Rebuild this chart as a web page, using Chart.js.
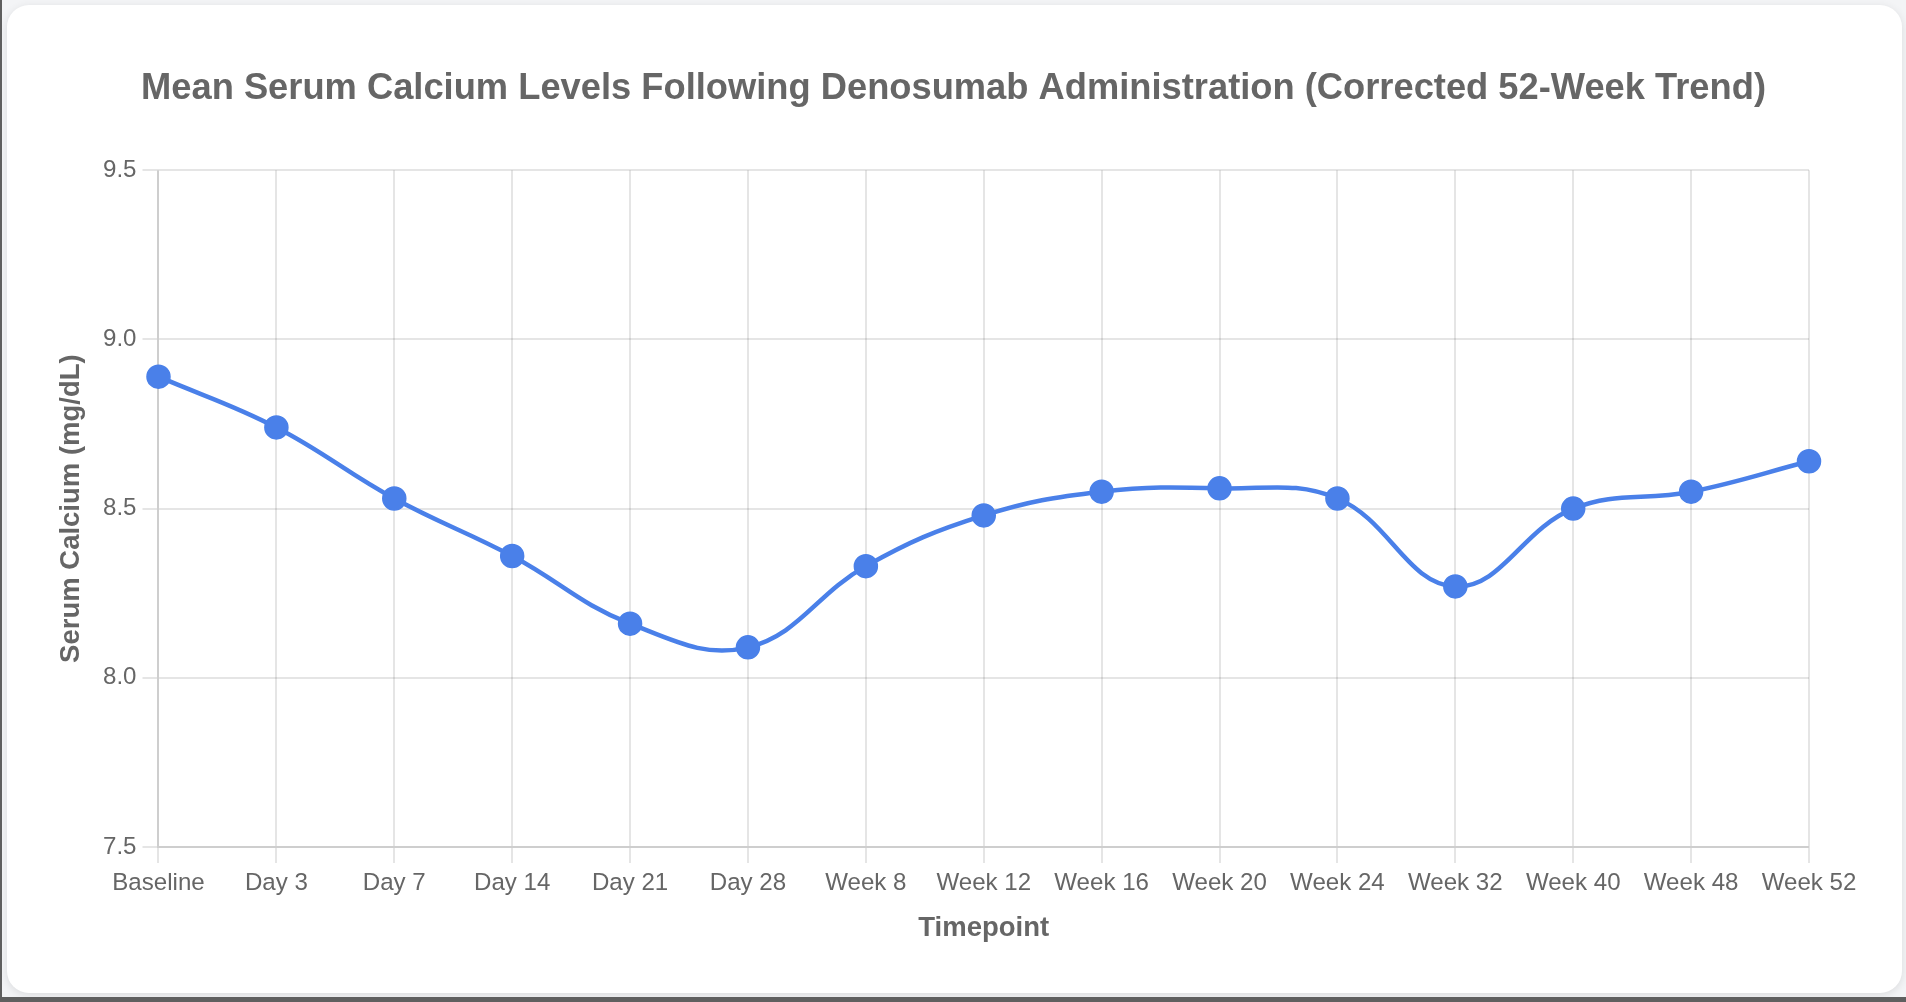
<!DOCTYPE html>
<html>
<head>
<meta charset="utf-8">
<script src="https://cdn.jsdelivr.net/npm/chart.js@4.4.1/dist/chart.umd.min.js"></script>
<style>
  html, body { margin: 0; padding: 0; }
  body {
    width: 1906px; height: 1002px; overflow: hidden; position: relative;
    background: #f3f4f6; font-family: "Liberation Sans", Arial, sans-serif;
  }
  #frameL { position: absolute; left: 0; top: 0; width: 2px; height: 1002px; background: #5f5f5f; }
  #frameB { position: absolute; left: 0; top: 997px; width: 1906px; height: 5px; background: #5f5f5f; }
  #card {
    position: absolute; left: 7px; top: 5px; width: 1895px; height: 988px;
    background: #fff; border-radius: 22px; box-shadow: 0 2px 8px rgba(0,0,0,0.10);
  }
  #wrap { position: absolute; left: 0; top: 0; width: 1906px; height: 1002px; }
</style>
</head>
<body>
<div id="card"></div>
<div id="frameL"></div>
<div id="frameB"></div>
<div id="wrap"><canvas id="c" width="1906" height="1002"></canvas></div>
<script>
const chartTitle = "Mean Serum Calcium Levels Following Denosumab Administration (Corrected 52-Week Trend)";
const xAxisTitle = "Timepoint";
const yAxisTitle = "Serum Calcium (mg/dL)";
const timepoints = ["Baseline", "Day 3", "Day 7", "Day 14", "Day 21", "Day 28", "Week 8", "Week 12", "Week 16", "Week 20", "Week 24", "Week 32", "Week 40", "Week 48", "Week 52"];
const calciumMean = [8.89, 8.74, 8.53, 8.36, 8.16, 8.09, 8.33, 8.48, 8.55, 8.56, 8.53, 8.27, 8.50, 8.55, 8.64];
const yMin = 7.5, yMax = 9.5, yStep = 0.5;

const blue = "rgb(74,128,233)";
const textGray = "#666";
const gridGray = "rgba(0,0,0,0.1)";
const fam = "'Liberation Sans', Arial, Helvetica, sans-serif";

new Chart(document.getElementById("c"), {
  type: "line",
  data: {
    labels: timepoints,
    datasets: [{
      label: "Mean Serum Calcium",
      data: calciumMean,
      borderColor: blue,
      backgroundColor: blue,
      borderWidth: 4.5,
      pointRadius: 11.5,
      pointBorderWidth: 1.5,
      pointBackgroundColor: blue,
      pointBorderColor: blue,
      tension: 0.4,
      fill: false
    }]
  },
  options: {
    responsive: false,
    animation: false,
    devicePixelRatio: 1,
    layout: { padding: { left: 47, right: 46, top: 67.7, bottom: 56.6 } },
    plugins: {
      legend: { display: false },
      tooltip: { enabled: false },
      title: {
        display: true,
        text: chartTitle,
        color: textGray,
        font: { family: fam, size: 36.3, weight: "bold" },
        padding: { top: 0, bottom: 59 }
      }
    },
    scales: {
      x: {
        grid: { color: gridGray, lineWidth: 2, tickLength: 16 },
        border: { color: gridGray, width: 2 },
        ticks: { color: textGray, font: { family: fam, size: 24.1 }, padding: 6, maxRotation: 0 },
        title: { display: true, text: xAxisTitle, color: textGray, font: { family: fam, size: 27.5, weight: "bold" }, padding: { top: 8.5, bottom: 0 } }
      },
      y: {
        min: yMin, max: yMax,
        grid: { color: gridGray, lineWidth: 2, tickLength: 16 },
        border: { color: gridGray, width: 2 },
        ticks: { stepSize: yStep, color: textGray, font: { family: fam, size: 24.1 }, padding: 6,
                 callback: v => Number(v).toFixed(1) },
        title: { display: true, text: yAxisTitle, color: textGray, font: { family: fam, size: 27.5, weight: "bold" }, padding: { top: 8, bottom: 9 } }
      },
      rightSpace: {
        type: "linear",
        position: "right",
        display: true,
        min: 0, max: 1,
        grid: { display: false, drawTicks: false },
        border: { display: false },
        ticks: { display: false },
        afterFit: (scale) => { scale.width = 51; scale.paddingTop = 0; scale.paddingBottom = 0; }
      }
    }
  }
});
</script>
</body>
</html>
